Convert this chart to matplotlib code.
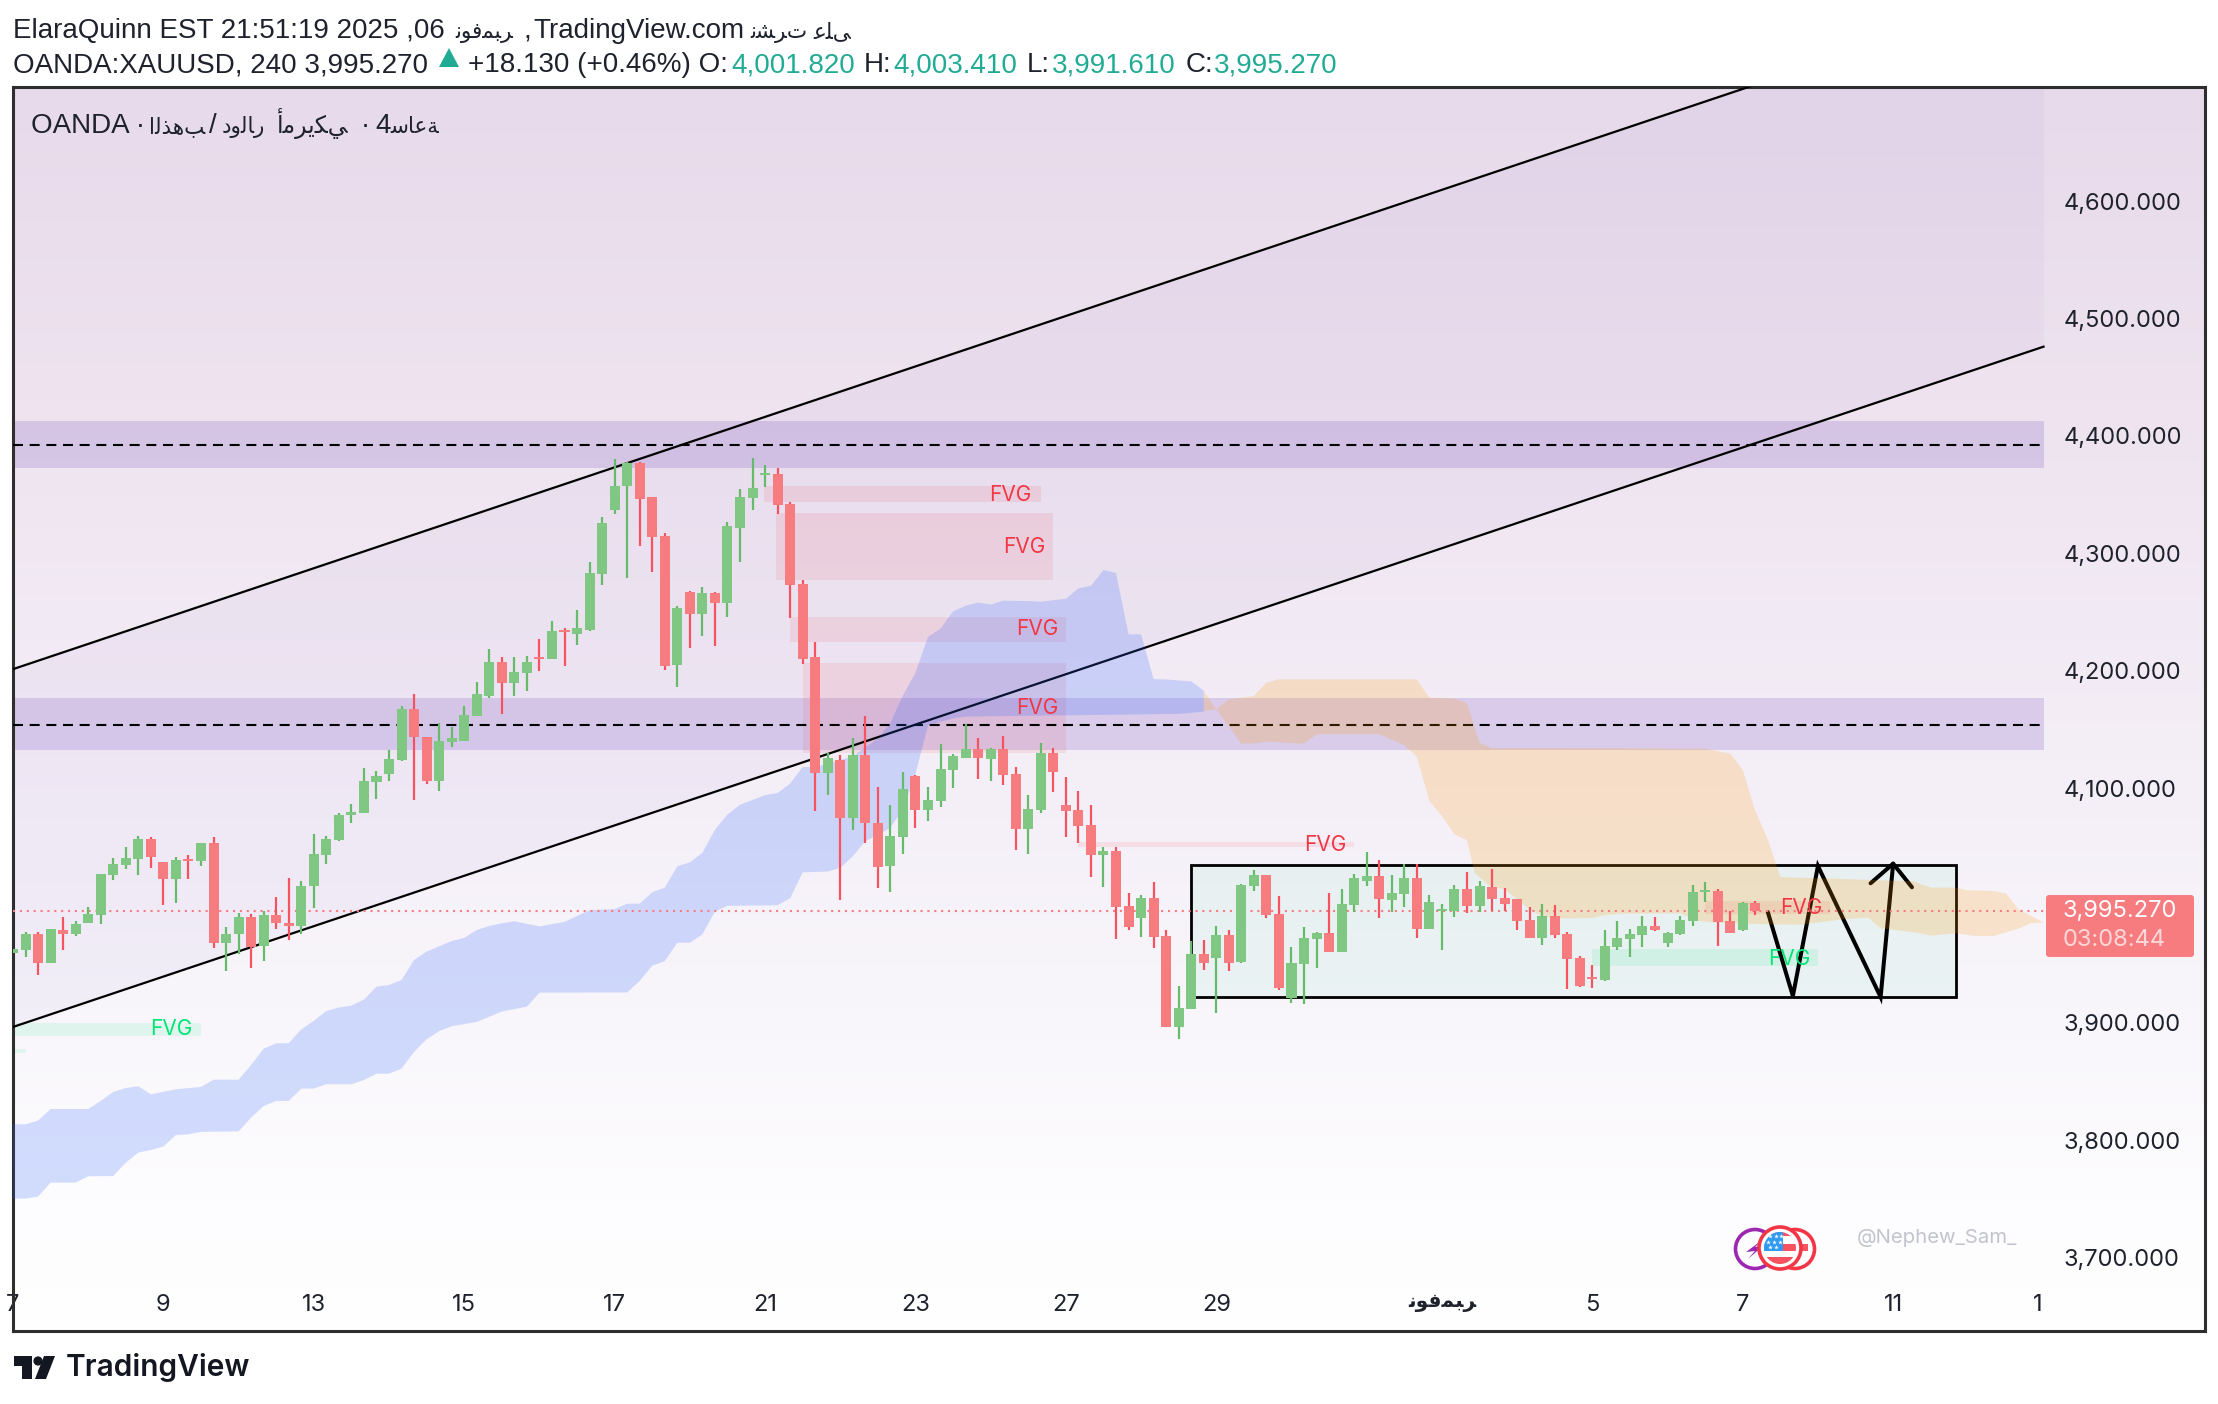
import numpy as np
import matplotlib
matplotlib.use('Agg')
import matplotlib.pyplot as plt
from matplotlib.colors import to_rgb
from matplotlib.patches import Circle, Rectangle, Polygon, FancyBboxPatch

# OHLC of the 4h candles
bar_open = [
    3959.4, 3961.7, 3975.4, 3950.6, 3978.7, 3975.4, 3985.2, 3991.7, 4025.6, 4034.7,
    4039.3, 4056.2, 4036.7, 4022.4, 4039.0, 4037.7, 4053.6, 3967.6, 3976.0, 3990.4,
    3965.6, 3991.7, 3985.2, 3982.3, 4016.2, 4042.6, 4055.6, 4077.1, 4078.4, 4104.8,
    4111.7, 4123.7, 4167.7, 4143.9, 4105.8, 4139.0, 4139.7, 4161.2, 4178.8, 4207.8,
    4189.9, 4197.7, 4212.0, 4209.8, 4234.5, 4231.6, 4234.9, 4282.1, 4336.6, 4357.0,
    4376.7, 4347.6, 4314.4, 4204.9, 4266.8, 4248.2, 4265.8, 4257.7, 4321.9, 4347.3,
    4366.5, 4367.9, 4341.8, 4273.7, 4211.4, 4112.6, 4123.7, 4074.5, 4128.0, 4070.0,
    4033.4, 4058.2, 4110.0, 4081.0, 4088.8, 4115.2, 4126.0, 4133.2, 4124.7, 4133.2,
    4112.0, 4065.0, 4081.0, 4129.6, 4085.6, 4081.0, 4068.3, 4042.9, 4046.1, 3999.5,
    3989.1, 4006.0, 3973.8, 3896.2, 3911.5, 3958.5, 3955.2, 3975.1, 3951.6, 4016.5,
    4026.0, 3992.7, 3921.3, 3950.2, 3971.2, 3976.3, 3960.1, 4000.1, 4020.6, 4024.8,
    4004.4, 4009.5, 4023.1, 3979.7, 3995.6, 3995.0, 4013.8, 3999.3, 4015.5, 4006.1,
    4005.2, 3987.3, 3972.0, 3990.8, 3975.4, 3955.0, 3938.5, 3936.2, 3964.4, 3971.2,
    3974.6, 3982.2, 3967.8, 3975.4, 3986.8, 4011.8, 4012.1, 3986.5, 3978.8, 4001.82]
bar_close = [
    3962.7, 3976.0, 3950.6, 3979.6, 3975.4, 3983.9, 3992.4, 4026.6, 4035.7, 4040.0,
    4056.2, 4040.9, 4022.4, 4038.3, 4037.7, 4053.0, 3967.6, 3976.0, 3990.4, 3965.0,
    3991.7, 3984.9, 3982.3, 4016.2, 4043.5, 4056.2, 4077.4, 4079.4, 4105.8, 4110.0,
    4124.4, 4167.7, 4143.3, 4105.8, 4139.7, 4142.3, 4161.9, 4179.8, 4207.8, 4189.9,
    4198.7, 4207.2, 4209.8, 4233.6, 4232.6, 4236.2, 4282.8, 4325.5, 4357.7, 4376.7,
    4346.3, 4313.7, 4203.9, 4253.8, 4248.2, 4265.8, 4257.7, 4322.9, 4347.6, 4355.5,
    4367.9, 4341.1, 4273.0, 4209.8, 4112.6, 4125.4, 4074.5, 4128.0, 4070.0, 4032.5,
    4059.2, 4099.0, 4081.3, 4089.8, 4116.2, 4127.3, 4133.2, 4125.4, 4133.2, 4111.0,
    4065.0, 4082.0, 4129.6, 4113.6, 4080.4, 4067.7, 4042.9, 4046.1, 3998.9, 3981.6,
    4006.0, 3973.1, 3896.2, 3912.5, 3958.5, 3951.3, 3975.1, 3951.3, 4017.1, 4025.6,
    3992.0, 3929.5, 3951.0, 3972.0, 3976.3, 3960.1, 4001.0, 4023.7, 4024.8, 4005.2,
    4010.3, 4023.1, 3979.7, 4002.7, 3996.7, 4013.8, 3999.3, 4016.3, 4005.2, 4001.3,
    3986.8, 3972.0, 3990.8, 3974.6, 3954.1, 3931.1, 3937.7, 3965.2, 3972.0, 3975.4,
    3982.2, 3978.8, 3976.3, 3987.3, 4011.2, 4012.9, 3985.6, 3976.3, 4001.8, 3995.27]
bar_high = [
    3962.7, 3977.0, 3977.0, 3979.6, 3990.4, 3987.1, 3998.9, 4026.9, 4040.0, 4049.4,
    4058.9, 4057.9, 4036.7, 4040.9, 4043.2, 4053.6, 4057.9, 3982.0, 3993.7, 3992.4,
    3995.0, 4007.0, 4023.0, 4021.0, 4060.5, 4058.9, 4079.0, 4086.2, 4116.9, 4114.9,
    4132.2, 4169.7, 4179.8, 4143.9, 4155.0, 4152.4, 4169.7, 4190.5, 4218.3, 4212.0,
    4212.0, 4212.7, 4227.4, 4242.0, 4236.2, 4251.5, 4292.2, 4330.7, 4380.5, 4378.0,
    4378.0, 4348.3, 4317.3, 4254.7, 4267.5, 4271.0, 4266.8, 4326.8, 4354.8, 4380.9,
    4375.0, 4372.4, 4344.0, 4277.6, 4224.8, 4129.9, 4128.3, 4143.0, 4161.2, 4101.2,
    4085.6, 4113.6, 4111.0, 4100.9, 4137.4, 4128.9, 4154.4, 4143.0, 4133.8, 4144.3,
    4117.8, 4094.0, 4138.0, 4133.8, 4109.4, 4097.3, 4085.6, 4050.0, 4050.0, 4010.6,
    4009.3, 4019.7, 3979.3, 3931.4, 3969.5, 3970.2, 3982.3, 3979.3, 4018.0, 4029.9,
    4026.0, 4008.0, 3964.3, 3982.0, 3977.7, 4010.9, 4014.3, 4027.1, 4045.8, 4039.0,
    4026.2, 4035.6, 4035.6, 4009.2, 4001.5, 4017.7, 4028.2, 4020.6, 4030.8, 4014.6,
    4005.2, 3999.0, 4001.0, 4000.1, 3977.7, 3956.7, 3949.0, 3978.8, 3987.1, 3979.7,
    3990.8, 3989.9, 3977.7, 3990.8, 4017.2, 4019.7, 4013.8, 3995.0, 4002.7, 4003.41]
bar_low = [
    3959.4, 3955.9, 3940.5, 3950.6, 3961.7, 3973.8, 3985.2, 3983.9, 4021.4, 4030.8,
    4025.6, 4031.5, 4000.8, 4002.5, 4022.4, 4033.4, 3963.4, 3943.8, 3958.5, 3946.4,
    3952.3, 3979.7, 3970.5, 3975.7, 3997.6, 4035.7, 4054.6, 4070.0, 4078.4, 4090.5,
    4106.4, 4122.7, 4089.5, 4103.5, 4097.3, 4134.8, 4139.7, 4161.2, 4176.5, 4163.5,
    4178.8, 4182.4, 4199.3, 4209.8, 4203.6, 4221.8, 4234.2, 4273.0, 4333.3, 4278.9,
    4306.2, 4284.1, 4200.6, 4186.0, 4219.2, 4229.3, 4220.9, 4245.3, 4292.2, 4336.9,
    4356.8, 4333.6, 4245.0, 4205.9, 4080.7, 4094.1, 4004.4, 4064.1, 4053.0, 4014.9,
    4011.3, 4043.5, 4065.7, 4071.9, 4083.6, 4099.9, 4125.4, 4107.4, 4105.8, 4102.5,
    4047.0, 4043.5, 4078.7, 4096.3, 4058.2, 4053.6, 4024.0, 4015.5, 3971.2, 3979.3,
    3973.1, 3963.7, 3896.2, 3886.1, 3911.5, 3944.8, 3908.3, 3944.1, 3951.0, 4012.6,
    3989.1, 3927.8, 3917.0, 3916.1, 3946.5, 3960.1, 3960.1, 3994.7, 4016.6, 3989.3,
    3994.4, 3998.4, 3972.3, 3979.7, 3961.8, 3990.2, 3993.3, 3994.7, 3995.3, 3995.3,
    3978.8, 3972.0, 3966.1, 3972.0, 3928.6, 3930.6, 3929.4, 3935.4, 3961.8, 3955.8,
    3964.4, 3978.0, 3964.4, 3974.6, 3982.2, 4002.7, 3965.2, 3976.3, 3978.0, 3991.61]

# Ichimoku cloud edges: (bar, price)
blue_upper = [(0, 3813.6), (1, 3813.6), (2, 3816.7), (3, 3826.6), (6, 3826.6), (7, 3833.5), (8, 3841.1),
              (9, 3844.5), (10, 3846.0), (11, 3839.1), (13, 3843.4), (15, 3845.4), (16, 3851.6), (18, 3851.6),
              (19, 3864.1), (20, 3878.0), (21, 3882.6), (22, 3882.6), (23, 3894.5), (24, 3901.7), (25, 3910.1),
              (26, 3913.0), (27, 3914.7), (28, 3919.8), (29, 3930.8), (30, 3932.3), (31, 3936.5), (32, 3953.6),
              (33, 3960.7), (35, 3969.7), (36, 3972.3), (37, 3979.1), (38, 3982.5), (39, 3984.8), (40, 3986.5),
              (42, 3982.2), (44, 3986.0), (46, 3996.0), (48, 3996.9), (49, 4001.5), (50, 4001.5), (51, 4011.3),
              (52, 4015.2), (53, 4033.4), (54, 4036.7), (55, 4044.8), (56, 4064.5), (57, 4077.4), (58, 4085.8),
              (60, 4094.0), (61, 4095.7), (62, 4103.8), (63, 4117.9), (64, 4117.9), (67, 4127.0), (69, 4142.0),
              (70, 4155.3), (71, 4178.8), (72, 4198.3), (73, 4228.7), (74, 4235.8), (75, 4250.5), (76, 4255.3),
              (77, 4258.0), (78, 4256.3), (79, 4259.6), (81, 4259.3), (82, 4258.7), (84, 4261.3), (85, 4270.1),
              (86, 4272.3), (87, 4285.7), (88, 4283.1), (89, 4231.0), (90, 4231.0), (91, 4192.8), (92, 4192.5),
              (94, 4190.9), (95, 4183.0)]
blue_lower = [(0, 3750.3), (1, 3750.3), (2, 3752.0), (3, 3763.9), (5, 3763.9), (6, 3769.3), (8, 3769.5),
              (9, 3780.9), (10, 3789.5), (11, 3791.7), (12, 3794.6), (13, 3804.5), (14, 3805.0), (15, 3807.1),
              (18, 3807.6), (19, 3819.3), (20, 3829.2), (21, 3833.5), (22, 3833.5), (23, 3844.0), (24, 3844.0),
              (25, 3847.7), (27, 3847.7), (28, 3851.3), (29, 3856.7), (30, 3856.7), (31, 3861.0), (32, 3875.3),
              (33, 3886.0), (34, 3893.0), (35, 3897.1), (37, 3900.8), (39, 3909.6), (41, 3913.8), (42, 3925.7),
              (49, 3925.9), (50, 3935.7), (51, 3948.7), (52, 3952.6), (53, 3968.2), (54, 3968.2), (55, 3975.4),
              (56, 3994.8), (57, 3999.7), (61, 4000.2), (62, 4006.0), (63, 4028.2), (65, 4028.9), (66, 4032.0),
              (67, 4041.9), (68, 4054.9), (69, 4059.8), (70, 4066.3), (71, 4082.0), (72, 4112.0), (73, 4153.3),
              (75, 4159.3), (76, 4160.9), (88, 4162.5), (93, 4163.2), (95, 4165.1)]
orange_upper = [(95, 4182.7), (96, 4167.1), (97, 4175.6), (99, 4178.4), (100, 4189.8), (101, 4192.6), (112, 4192.6),
                (113, 4177.0), (115, 4176.2), (116, 4172.2), (117, 4138.7), (118, 4133.9), (135, 4133.6), (137, 4129.3),
                (138, 4115.4), (139, 4080.5), (140, 4056.3), (141, 4024.2), (151.6, 4020.6), (153, 4015.2), (155, 4015.2),
                (155.9, 4012.9), (158, 4012.3), (159, 4010.3), (160, 3996.7), (162, 3985.4)]
orange_lower = [(95, 4165.7), (96, 4167.1), (98, 4137.8), (99, 4138.1), (100, 4139.5), (103, 4137.8), (104, 4145.8),
                (109, 4145.8), (111, 4136.4), (112, 4126.8), (113, 4089.0), (114, 4076.2), (115, 4060.6), (116, 4055.5),
                (116.6, 4028.0), (117.8, 4016.6), (119, 4013.8), (121, 3996.7), (122, 3990.5), (124, 3988.8), (126, 3989.3),
                (127, 3991.9), (128.4, 3993.0), (133, 3993.3), (134.4, 3986.8), (136, 3985.4), (140, 3983.9), (142.6, 3983.6),
                (146, 3988.2), (148, 3989.6), (149, 3980.5), (151.9, 3976.8), (153, 3974.3), (155, 3976.3), (156.5, 3974.0),
                (158, 3974.0), (160, 3980.3), (161, 3984.8), (162, 3985.4)]

# FVG boxes: bar from, bar to, price low, price high
fvg_red = [(59.9, 82, 4343.4, 4357.1), (60.9, 83, 4277.2, 4334.3), (62, 84, 4224.1, 4245.6),
           (63, 84, 4129.9, 4206.5), (85, 107, 4049.7, 4054.3), (135, 145, 3992.5, 4003.8)]
fvg_green = [(0, 15, 3888.8, 3900.2), (0, 1, 3874.1, 3877.5), (126, 144, 3948.5, 3962.6)]
fvg_red_labels = [(79.6, 4349.3), (80.7, 4305.0), (81.7, 4235.2), (81.7, 4168.0), (104.7, 4051.2), (142.7, 3998.1)]
fvg_green_labels = [(12.6, 3894.5), (141.7, 3954.7)]

bands = [(4373.0, 4412.5), (4132.2, 4176.5)]
band_levels = [4392.5, 4153.8]
upper_channel = ([0, 138.6], [4201.3, 4697.7])
lower_channel = ([0, 162], [3896.5, 4476.0])
box = (94, 155, 3922.0, 4034.5)
zigzag = ([140, 142, 144, 149, 150], [3994.4, 3922.9, 4033.6, 3922.0, 4035.6])
arrow_head = ([148.2, 150, 151.5], [4018.9, 4035.6, 4015.5])

last_price = 3995.27
price_ticks = [3700, 3800, 3900, 4100, 4200, 4300, 4400, 4500, 4600]
date_ticks = [0, 12, 24, 36, 48, 60, 72, 84, 96, 114, 126, 138, 150, 161.5]
nov = '\ufee7\ufeee\ufed3\ufee4\ufe92\ufeae'  # November
date_labels = ['7', '9', '13', '15', '17', '21', '23', '27', '29', nov, '5', '7', '11', '1']

# published on
pub_1 = '\ufee7\ufeb8\ufeae\ufe95'
pub_2 = '\ufecb\ufee0\ufef0'
# gold / us dollar, 4 hours
gold = '\ufe8d\ufedf\ufeac\ufeeb\ufe90'
dollar = '\ufea9\ufeed\ufedf\ufe8e\ufead'
american = '\ufe83\ufee3\ufeae\ufef3\ufedc\ufef2'
hours = '\ufeb3\ufe8e\ufecb\ufe94'

GREEN = '#81C784'
GREEN_WICK = '#66BB6A'
RED = '#F77C80'
RED_WICK = '#F7525F'
TEAL = '#22AB94'
INK = '#1E222D'
HEAD_FONT = ['Liberation Sans', 'DejaVu Sans']
TICK_FONT = ['Inter', 'DejaVu Sans']

fig = plt.figure(figsize=(22.18, 14.04), dpi=100, facecolor='white')
ax = fig.add_axes([13 / 2218, 1 - 1331 / 1404, (2205 - 13) / 2218, (1331 - 87) / 1404])
xlim = (0.008, 174.88)
ylim = (3637.5, 4697.2)

# pane background
stops_y = [87, 400, 820, 1040, 1200, 1331]
stops_c = ['#E7DAEB', '#EEE3EF', '#F5F0F8', '#F9F7FB', '#FDFCFE', '#FFFFFF']
rows = np.arange(87, 1332)
grad = np.stack([np.interp(rows, stops_y, [to_rgb(c)[k] for c in stops_c]) for k in range(3)], axis=1)[:, None, :]
ax.imshow(grad, extent=(xlim[0], xlim[1], ylim[0], ylim[1]), origin='upper', aspect='auto', zorder=0)

# channel fill, top side runs past the chart top
chan_x = np.array([0, 162])
slope = (upper_channel[1][1] - upper_channel[1][0]) / upper_channel[0][1]
chan_up = upper_channel[1][0] + slope * chan_x
ax.fill_between(chan_x, np.array(lower_channel[1]), chan_up, color='#8060C0', alpha=0.05, lw=0, zorder=1)

for low, high in bands:
    ax.fill_between([0, 162], low, high, color='#673AB7', alpha=0.18, lw=0, zorder=2)

for x0, x1, low, high in fvg_red:
    ax.fill_between([x0, x1], low, high, color='#F23645', alpha=0.10, lw=0, zorder=2.1)
for x0, x1, low, high in fvg_green:
    ax.fill_between([x0, x1], low, high, color='#00E676', alpha=0.10, lw=0, zorder=2.1)

ax.add_patch(Rectangle((box[0], box[2]), box[1] - box[0], box[3] - box[2], facecolor=(0.28, 0.855, 0.63, 0.08),
                       edgecolor='black', lw=2.0, zorder=2.5))

for level in band_levels:
    ax.plot([0, 162], [level, level], color='black', lw=1.5, ls=(0, (4.8, 3.2)), dash_capstyle='butt', zorder=3)
ax.plot(upper_channel[0], upper_channel[1], color='black', lw=1.6, zorder=3)
ax.plot(lower_channel[0], lower_channel[1], color='black', lw=1.6, zorder=3)
ax.plot(zigzag[0], zigzag[1], color='black', lw=2.9, solid_capstyle='round', solid_joinstyle='miter', zorder=3)
ax.plot(arrow_head[0], arrow_head[1], color='black', lw=2.9, solid_capstyle='round', zorder=3)

# cloud sits over the drawings
for upper, lower, colour, alpha in [(blue_upper, blue_lower, '#2962FF', 0.2), (orange_upper, orange_lower, '#FF9800', 0.19)]:
    xs = [p[0] for p in upper] + [p[0] for p in lower[::-1]]
    ys = [p[1] for p in upper] + [p[1] for p in lower[::-1]]
    ax.fill(xs, ys, color=colour, alpha=alpha, lw=0, zorder=3.5)

ax.plot([0, 162.2], [last_price, last_price], color=RED, lw=1.5, ls=(0, (1, 2.3)), zorder=3.6)

# candles
bars = np.arange(len(bar_open))
opens = np.array(bar_open)
closes = np.array(bar_close)
up = closes >= opens
wick_colors = [GREEN_WICK if u else RED_WICK for u in up]
body_colors = [GREEN if u else RED for u in up]
ax.vlines(bars, bar_low, bar_high, colors=wick_colors, lw=1.6, zorder=4)
heights = np.maximum(np.abs(closes - opens), 1.7)
ax.bar(bars, heights, bottom=np.minimum(opens, closes), width=0.8, color=body_colors, lw=0, zorder=4.1)

for x, y in fvg_red_labels:
    ax.text(x, y, 'FVG', color='#F23645', fontsize=15, family=TICK_FONT, ha='center', va='center', zorder=5)
for x, y in fvg_green_labels:
    ax.text(x, y, 'FVG', color='#00E676', fontsize=15, family=TICK_FONT, ha='center', va='center', zorder=5)

ax.set_xlim(xlim)
ax.set_ylim(ylim)
ax.set_xticks(date_ticks)
ax.set_xticklabels(date_labels, fontsize=17, family=TICK_FONT, color=INK)
ax.get_xticklabels()[9].set_fontweight('bold')
ax.get_xticklabels()[9].set_fontsize(14.5)
ax.set_yticks(price_ticks)
ax.set_yticklabels([f'{p:,.3f}' for p in price_ticks], fontsize=17, family=TICK_FONT, color=INK)
ax.yaxis.tick_right()
ax.tick_params(axis='x', length=0, pad=-26.5)
ax.tick_params(axis='y', length=0, pad=-102)
for spine in ax.spines.values():
    spine.set_linewidth(2.2)
    spine.set_color('#2E2E2E')

# pixel overlay for header, logo, icons and the price tag
over = fig.add_axes([0, 0, 1, 1], zorder=10)
over.set_xlim(0, 2218)
over.set_ylim(1404, 0)
over.axis('off')
over.patch.set_alpha(0)

HEAD = 20
ARABIC = 15.5


def head(x, y, s, size=HEAD, color=INK):
    over.text(x, y, s, fontsize=size, family=HEAD_FONT, color=color, va='baseline')


head(13, 38, 'ElaraQuinn EST 21:51:19 2025 ,06')
head(455, 38, nov, ARABIC)
head(523, 38, ',')
head(533, 38, 'TradingView.com')
head(750, 38, pub_1, ARABIC)
head(813, 38, pub_2, ARABIC)

head(13, 72, 'OANDA:XAUUSD, 240 3,995.270')
over.add_patch(Polygon([[439, 67], [459, 67], [449, 48]], color=TEAL, lw=0))
head(468, 72, '+18.130 (+0.46%) O:')
head(864, 72, 'H:')
head(1027, 72, 'L:')
head(1186, 72, 'C:')
for x, s in [(731, '4,001.820'), (893, '4,003.410'), (1052, '3,991.610'), (1214, '3,995.270')]:
    head(x, 72, s, color=TEAL)

head(31, 133, 'OANDA \u00b7')
head(149, 133, gold, ARABIC)
head(209, 133, '/')
head(222, 133, dollar, ARABIC)
head(277, 133, american, 17)
head(361, 133, '\u00b7')
head(375, 133, '4')
head(390, 133, hours, ARABIC)

# last price tag
over.add_patch(FancyBboxPatch((2048, 897), 144, 58, boxstyle='round,pad=2,rounding_size=3', facecolor=RED, edgecolor='none'))
over.text(2063, 911, '3,995.270', fontsize=17, family=TICK_FONT, color='white', va='center')
over.text(2063, 940, '03:08:44', fontsize=17, family=TICK_FONT, color='#FFFFFF', alpha=0.7, va='center')

# watermark and icons
over.text(1857, 1238, '@Nephew_Sam_', fontsize=14.6, family=TICK_FONT, color='#C2C4CC', va='center')
over.add_patch(Circle((1755, 1249), 19.5, fill=False, edgecolor='#9C27B0', lw=2.6))
over.add_patch(Polygon([[1765, 1238], [1746, 1252], [1755, 1251], [1748, 1259], [1763, 1246], [1755, 1247]], color='#9C27B0', lw=0))
over.add_patch(Circle((1795, 1249), 19.5, facecolor='white', edgecolor='#F23645', lw=2.6))
over.add_patch(Rectangle((1800, 1244), 8, 7, color='#F7525F', lw=0))
over.add_patch(Circle((1780, 1248), 21, facecolor='white', edgecolor='#F23645', lw=2.6))
flag = Circle((1780, 1248), 16, transform=over.transData)
for y0, h, colour in [(1232, 4, '#F7525F'), (1244, 7, '#F7525F'), (1257, 8, '#F7525F')]:
    stripe = Rectangle((1764, y0), 32, h, color=colour, lw=0)
    over.add_patch(stripe)
    stripe.set_clip_path(flag)
canton = Rectangle((1764, 1232), 19, 19, color='#2E9BF0', lw=0)
over.add_patch(canton)
canton.set_clip_path(flag)
stars = over.scatter([1770, 1776, 1781, 1768, 1774, 1780, 1770, 1776], [1236, 1236, 1236, 1242, 1242, 1242, 1247, 1247], s=12, marker='*', color='white', lw=0)
stars.set_clip_path(flag)

# TradingView logo
over.add_patch(Polygon([[14, 1356], [32, 1356], [32, 1379], [22, 1379], [22, 1366], [14, 1366]], color='#131722', lw=0))
over.add_patch(Circle((38, 1361), 4.6, color='#131722', lw=0))
over.add_patch(Polygon([[44, 1356], [55, 1356], [46, 1379], [35, 1379]], color='#131722', lw=0))
over.text(66, 1368, 'TradingView', fontsize=21.5, family=['Inter', 'DejaVu Sans'], fontweight='semibold', color='#131722', va='center')

fig.savefig('out.png', dpi=100, facecolor='white')
